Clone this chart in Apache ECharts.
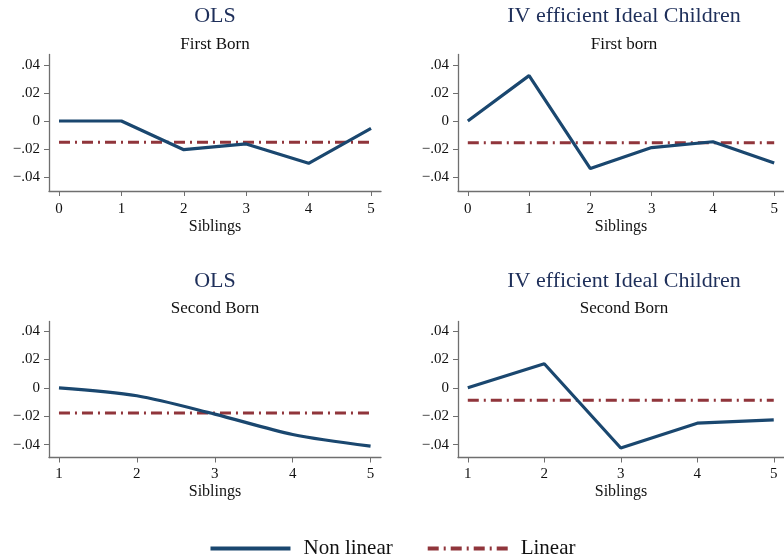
<!DOCTYPE html>
<html>
<head>
<meta charset="utf-8">
<script src="https://cdn.jsdelivr.net/npm/echarts@6/dist/echarts.min.js"></script>
<style>html,body{margin:0;padding:0;background:#fff}#c{width:784px;height:559px}</style>
</head>
<body>
<div id="c"></div>
<script>
// ---- data ----
const siblingsFirst = [0, 1, 2, 3, 4, 5];
const siblingsSecond = [1, 2, 3, 4, 5];
const olsFirstNonlinear = [0, 0, -0.0205, -0.0164, -0.0302, -0.0052];
const olsFirstLinear = -0.0152;
const ivFirstNonlinear = [0, 0.0324, -0.034, -0.019, -0.0148, -0.030];
const ivFirstLinear = -0.0155;
const olsSecondNonlinear = [0, -0.0056, -0.0185, -0.0328, -0.041];
const olsSecondLinear = -0.0178;
const ivSecondNonlinear = [0, 0.0169, -0.0423, -0.0249, -0.0225];
const ivSecondLinear = -0.0087;
const yTicks = [-0.04, -0.02, 0, 0.02, 0.04];
const panelTitles = ['OLS', 'IV efficient Ideal Children', 'OLS', 'IV efficient Ideal Children'];
const panelSubtitles = ['First Born', 'First born', 'Second Born', 'Second Born'];
const xAxisTitle = 'Siblings';
const legendNames = ['Non linear', 'Linear'];

// ---- style ----
const FONT = 'Liberation Serif';
const NAVY = '#1a476f';
const MAROON = '#90353b';
const TITLE = '#1e2f5a';
const AXIS = '#6f6f6f';

const panels = [
  {x: siblingsFirst, nl: olsFirstNonlinear, lin: olsFirstLinear, smooth: false,
   grid: {left: 49, top: 54.5, width: 332, height: 136.5}, xr: [-0.16, 5.16], yr: [-0.05, 0.0475],
   cx: 215, tTop: 5.5, sTop: 36, lblMargin: 11, nameGap: 28},
  {x: siblingsFirst, nl: ivFirstNonlinear, lin: ivFirstLinear, smooth: false,
   grid: {left: 458, top: 54.5, width: 332, height: 136.5}, xr: [-0.16, 5.16], yr: [-0.05, 0.0475],
   cx: 624, tTop: 5.5, sTop: 36, lblMargin: 11, nameGap: 28},
  {x: siblingsSecond, nl: olsSecondNonlinear, lin: olsSecondLinear, smooth: 0.3,
   grid: {left: 49, top: 321.5, width: 332, height: 136}, xr: [0.872, 5.134], yr: [-0.049, 0.0466],
   cx: 215, tTop: 270, sTop: 300.5, lblMargin: 9.5, nameGap: 26.5},
  {x: siblingsSecond, nl: ivSecondNonlinear, lin: ivSecondLinear, smooth: false,
   grid: {left: 458, top: 321.5, width: 332, height: 136}, xr: [0.872, 5.134], yr: [-0.049, 0.0466],
   cx: 624, tTop: 270, sTop: 300.5, lblMargin: 9.5, nameGap: 26.5}
];

function fmtY(v) {
  if (Math.abs(v) < 1e-9) return '0';
  const s = Math.abs(v).toFixed(2).replace(/^0/, '');
  return (v < 0 ? '\u2212' : '') + s;
}

const titles = [], grids = [], xAxes = [], yAxes = [], series = [];
panels.forEach((p, i) => {
  titles.push({text: panelTitles[i], left: p.cx, top: p.tTop, textAlign: 'center', padding: 0,
    textStyle: {fontFamily: FONT, fontSize: 22, fontWeight: 'normal', color: TITLE}});
  titles.push({text: panelSubtitles[i], left: p.cx, top: p.sTop, textAlign: 'center', padding: 0,
    textStyle: {fontFamily: FONT, fontSize: 17, fontWeight: 'normal', color: '#111'}});
  grids.push(Object.assign({containLabel: false}, p.grid));
  xAxes.push({type: 'value', gridIndex: i, min: p.xr[0], max: p.xr[1],
    name: xAxisTitle, nameLocation: 'middle', nameGap: p.nameGap,
    nameTextStyle: {fontFamily: FONT, fontSize: 16, color: '#111'},
    axisLine: {onZero: false, lineStyle: {color: AXIS, width: 1.3}},
    axisTick: {show: true, length: 5, lineStyle: {color: AXIS, width: 1}, customValues: p.x},
    axisLabel: {customValues: p.x, margin: p.lblMargin, fontFamily: FONT, fontSize: 15, color: '#111'},
    splitLine: {show: false}});
  yAxes.push({type: 'value', gridIndex: i, min: p.yr[0], max: p.yr[1],
    axisLine: {show: true, onZero: false, lineStyle: {color: AXIS, width: 1.3}},
    axisTick: {show: true, length: 5, lineStyle: {color: AXIS, width: 1}, customValues: yTicks},
    axisLabel: {customValues: yTicks, margin: 9, fontFamily: FONT, fontSize: 15, color: '#111', formatter: fmtY},
    splitLine: {show: false}});
  series.push({name: legendNames[0], type: 'line', xAxisIndex: i, yAxisIndex: i,
    data: p.x.map((x, k) => [x, p.nl[k]]), showSymbol: false, symbol: 'none', smooth: p.smooth,
    lineStyle: {color: NAVY, width: 3.2}, itemStyle: {color: NAVY}, z: 3});
  series.push({name: legendNames[1], type: 'line', xAxisIndex: i, yAxisIndex: i,
    data: [[p.x[0], p.lin], [p.x[p.x.length - 1], p.lin]], showSymbol: false, symbol: 'none',
    lineStyle: {color: MAROON, width: 3, type: [11, 5, 2, 5]}, itemStyle: {color: MAROON}, z: 2});
});

const chart = echarts.init(document.getElementById('c'), null, {renderer: 'canvas'});
chart.setOption({
  backgroundColor: '#ffffff',
  animation: false,
  title: titles,
  grid: grids,
  xAxis: xAxes,
  yAxis: yAxes,
  legend: {data: legendNames, left: 'center', top: 533, itemWidth: 80, itemHeight: 14, itemGap: 33,
    itemStyle: {opacity: 0, borderWidth: 0},
    lineStyle: {width: 4},
    textStyle: {fontFamily: FONT, fontSize: 21, color: '#111', padding: [0, 0, 0, 8]}},
  series: series
});
</script>
</body>
</html>
